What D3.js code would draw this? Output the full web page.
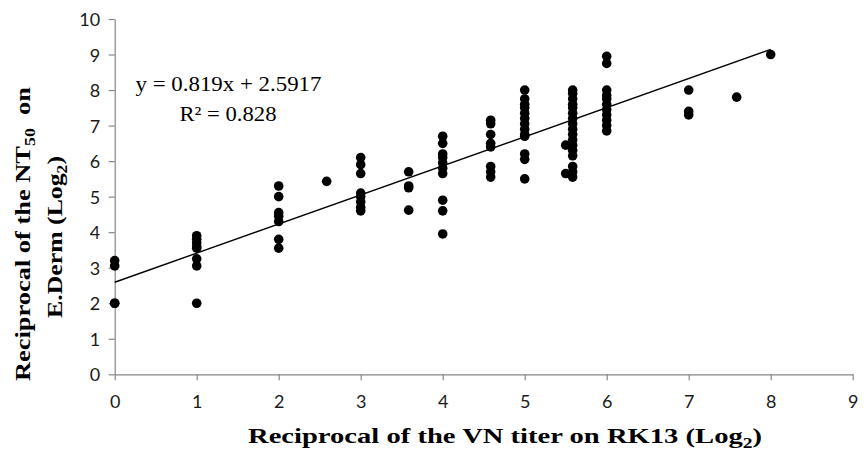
<!DOCTYPE html>
<html>
<head>
<meta charset="utf-8">
<script src="https://cdn.jsdelivr.net/npm/d3@7"></script>
<style>
  html, body { margin: 0; padding: 0; background: #fff; }
  svg { display: block; }
</style>
</head>
<body>
<div id="chart"></div>
<script>
// Reciprocal of the VN titer on RK13 (Log2) for each sample
const vnTiterRK13 = [
  0, 0, 0, 0,
  1, 1, 1, 1, 1, 1, 1, 1,
  2, 2, 2, 2, 2, 2, 2,
  2.585,
  3, 3, 3, 3, 3, 3, 3, 3,
  3.585, 3.585, 3.585, 3.585,
  4, 4, 4, 4, 4, 4, 4, 4, 4, 4,
  4.585, 4.585, 4.585, 4.585, 4.585, 4.585, 4.585, 4.585,
  5, 5, 5, 5, 5, 5, 5, 5, 5, 5, 5, 5, 5,
  5.5, 5.5,
  5.585, 5.585, 5.585, 5.585, 5.585, 5.585, 5.585, 5.585, 5.585,
  5.585, 5.585, 5.585, 5.585, 5.585, 5.585, 5.585, 5.585,
  6, 6, 6, 6, 6, 6, 6, 6, 6, 6, 6,
  7, 7, 7,
  7.585,
  8
];

// Reciprocal of the NT50 on E.Derm (Log2) for the same samples
const nt50EDerm = [
  3.2, 3.05, 2.0, 2.0,
  3.9, 3.8, 3.7, 3.6, 3.55, 3.25, 3.05, 2.0,
  5.3, 5.0, 4.55, 4.45, 4.3, 3.8, 3.55,
  5.43,
  6.1, 5.9, 5.65, 5.1, 5.0, 4.85, 4.7, 4.6,
  5.7, 5.3, 5.25, 4.62,
  6.7, 6.5, 6.2, 6.1, 5.95, 5.8, 5.65, 4.9, 4.6, 3.95,
  7.15, 7.05, 6.75, 6.5, 6.4, 5.85, 5.7, 5.55,
  8.0, 7.75, 7.6, 7.5, 7.35, 7.2, 7.05, 6.9, 6.75, 6.7, 6.2, 6.05, 5.5,
  6.45, 5.65,
  8.0, 7.9, 7.75, 7.6, 7.5, 7.35, 7.2, 7.05, 6.9,
  6.75, 6.6, 6.45, 6.3, 6.15, 5.85, 5.7, 5.55,
  8.95, 8.75, 8.0, 7.85, 7.75, 7.6, 7.45, 7.3, 7.15, 7.0, 6.85,
  8.0, 7.4, 7.3,
  7.8,
  9.0
];

// Linear trend line
const trendSlope = 0.819;
const trendIntercept = 2.5917;
const trendRange = [0, 8];
const trendR2 = "0.828";

// Axis ticks
const xTicks = [0, 1, 2, 3, 4, 5, 6, 7, 8, 9];
const yTicks = [0, 1, 2, 3, 4, 5, 6, 7, 8, 9, 10];

const W = 866, H = 455;
const plot = { left: 114.7, right: 852.7, top: 19, bottom: 374.3 };

const svg = d3.select("#chart").append("svg")
  .attr("width", W).attr("height", H);

const x = d3.scaleLinear().domain([0, 9]).range([plot.left, plot.right]);
const y = d3.scaleLinear().domain([0, 10]).range([plot.bottom, plot.top]);

const axisColor = "#868686";
const tickFont = "Lato, 'Open Sans', sans-serif";
const serif = "'Liberation Serif', 'Times New Roman', serif";

// X axis
const gx = svg.append("g")
  .attr("transform", `translate(0,${plot.bottom})`)
  .call(d3.axisBottom(x).tickValues(xTicks).tickFormat(d3.format("d"))
    .tickSizeInner(6).tickSizeOuter(0));
gx.select(".domain").attr("stroke", axisColor).attr("stroke-width", 1.2);
gx.selectAll(".tick line").attr("stroke", axisColor).attr("stroke-width", 1.2);
gx.selectAll(".tick text")
  .attr("y", 34).attr("dy", 0)
  .attr("fill", "#1a1a1a")
  .style("font-family", tickFont).style("font-size", "18px");

// Y axis
const gy = svg.append("g")
  .attr("transform", `translate(${plot.left},0)`)
  .call(d3.axisLeft(y).tickValues(yTicks).tickFormat(d3.format("d"))
    .tickSizeInner(6).tickSizeOuter(0));
gy.select(".domain").attr("stroke", axisColor).attr("stroke-width", 1.2);
gy.selectAll(".tick line").attr("stroke", axisColor).attr("stroke-width", 1.2);
gy.selectAll(".tick text")
  .attr("x", -14.5).attr("dy", "0.36em")
  .attr("fill", "#1a1a1a")
  .style("font-family", tickFont).style("font-size", "18px");

// Sample points
const points = vnTiterRK13.map((v, i) => ({ x: v, y: nt50EDerm[i] }));
svg.append("g").selectAll("circle")
  .data(points)
  .join("circle")
  .attr("cx", d => x(d.x))
  .attr("cy", d => y(d.y))
  .attr("r", 4.8)
  .attr("fill", "#000");

// Trend line
const trendLine = d3.line().x(d => x(d)).y(d => y(trendSlope * d + trendIntercept));
svg.append("path")
  .datum(trendRange)
  .attr("d", trendLine)
  .attr("fill", "none")
  .attr("stroke", "#000")
  .attr("stroke-width", 1.4);

// Equation and R²
const eq = svg.append("g")
  .style("font-family", serif).style("font-size", "22px").attr("fill", "#000")
  .attr("text-anchor", "middle");
eq.append("text").attr("x", 228.5).attr("y", 91)
  .attr("textLength", 186).attr("lengthAdjust", "spacingAndGlyphs")
  .text(`y = ${trendSlope}x + ${trendIntercept}`);
eq.append("text").attr("x", 228).attr("y", 121)
  .attr("textLength", 97).attr("lengthAdjust", "spacingAndGlyphs")
  .text(`R² = ${trendR2}`);

// X axis title
const xt = svg.append("text")
  .attr("x", 248).attr("y", 443)
  .attr("textLength", 514).attr("lengthAdjust", "spacingAndGlyphs")
  .style("font-family", serif).style("font-size", "22px").style("font-weight", "bold")
  .attr("fill", "#000");
xt.append("tspan").text("Reciprocal of the VN titer on RK13 (Log");
xt.append("tspan").attr("dy", 5).style("font-size", "15px").text("2");
xt.append("tspan").attr("dy", -5).text(")");

// Y axis title (two lines)
const yt = svg.append("g")
  .style("font-family", serif).style("font-size", "22px").style("font-weight", "bold")
  .attr("fill", "#000").attr("text-anchor", "middle");
const y1 = yt.append("text")
  .attr("transform", "translate(30,234) rotate(-90)")
  .attr("textLength", 294).attr("lengthAdjust", "spacingAndGlyphs");
y1.append("tspan").text("Reciprocal of the NT");
y1.append("tspan").attr("dy", 5).style("font-size", "15px").text("50");
y1.append("tspan").attr("dy", -5).text("\u00A0\u00A0on");
const y2 = yt.append("text")
  .attr("transform", "translate(62,237) rotate(-90)")
  .attr("textLength", 162).attr("lengthAdjust", "spacingAndGlyphs");
y2.append("tspan").text("E.Derm (Log");
y2.append("tspan").attr("dy", 5).style("font-size", "15px").text("2");
y2.append("tspan").attr("dy", -5).text(")");
</script>
</body>
</html>
